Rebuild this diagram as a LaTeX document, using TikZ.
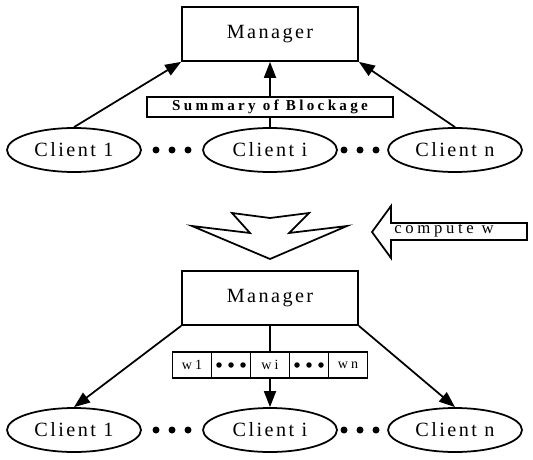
\documentclass[tikz,border=0pt]{standalone}
\usepackage{fontspec}
\setmainfont{Liberation Serif}
\newfontfamily\spacedfont[LetterSpace=12]{Liberation Serif}
\newfontfamily\widefont[LetterSpace=22]{Liberation Serif}
\usetikzlibrary{arrows.meta,positioning,shapes.geometric}

\begin{document}
\begin{tikzpicture}[x=0.02cm,y=-0.02cm,line width=1pt]
	\tikzstyle{rect}=[draw, rectangle, minimum width=3.52cm, minimum height=1.08cm, font=\spacedfont\fontsize{11.5}{13}\selectfont]
	\tikzstyle{rect_s}=[draw, rectangle, minimum width=4.92cm, minimum height=0.4cm, inner sep=0pt, font=\widefont\fontsize{8.6}{9}\selectfont\bfseries]
	\tikzstyle{cell}=[draw, rectangle, minimum width=0.78cm, minimum height=0.52cm, inner sep=0pt, outer sep=0pt, font=\widefont\fontsize{8}{9}\selectfont]
	\tikzstyle{circ}=[draw, ellipse, minimum width=2.68cm, minimum height=0.88cm, inner sep=0pt, font=\spacedfont\fontsize{11.5}{13}\selectfont]
	\tikzstyle{arr}=[-{Triangle[length=0.32cm,width=0.24cm]}]

	\useasboundingbox (0,0) rectangle (533,459);

	% before
	\node[rect] (man) at (270,34) {Manager};
	\node[rect_s] (sum) at (270,107) {Summary of Blockage};
	\node[circ] (c1) at (74,150) {Client 1};
	\node[circ] (ci) at (270,150) {Client i};
	\node[circ] (cn) at (455,150) {Client n};
	\foreach \x in {156,172,188,344,360,376}
		\fill (\x,150) circle (0.07cm);

	\draw[arr] (c1.north) -- (man.south west);
	\draw[arr] (cn.north) -- (man.south east);
	\draw (ci.north) -- (sum.south);
	\draw[arr] (sum.north) -- (man.south);

	% step between
	\draw (192,226) -- (250,233) -- (232,213) -- (270,218) -- (309,213)
		-- (289,233) -- (347,226) -- (270,259) -- cycle;
	\draw (372,232) -- (391,206) -- (391,223) -- (527,223) -- (527,240)
		-- (391,240) -- (391,258) -- cycle;
	\node[font=\widefont\fontsize{9.5}{10}\selectfont] (comp) at (444,231) {compute w};

	% after
	\node[rect] (man2) at (270,298) {Manager};
	\node[cell] (wi) at (270,365) {wi};
	\node[cell] (d1) [left=0pt of wi] {};
	\node[cell] (w1) [left=0pt of d1] {w1};
	\node[cell] (d2) [right=0pt of wi] {};
	\node[cell] (wn) [right=0pt of d2] {wn};
	\foreach \c in {d1,d2}
		\foreach \dx in {-0.24,0,0.24}
			\fill ([xshift=\dx cm]\c.center) circle (0.055cm);
	\node[circ] (c21) at (74,430) {Client 1};
	\node[circ] (c2i) at (270,430) {Client i};
	\node[circ] (c2n) at (455,430) {Client n};
	\foreach \x in {156,172,188,344,360,376}
		\fill (\x,430) circle (0.07cm);

	\draw[arr] (man2.south west) -- (c21.north);
	\draw[arr] (man2.south east) -- (c2n.north);
	\draw (man2.south) -- (wi.north);
	\draw[arr] (wi.south) -- (c2i.north);
\end{tikzpicture}
\end{document}
